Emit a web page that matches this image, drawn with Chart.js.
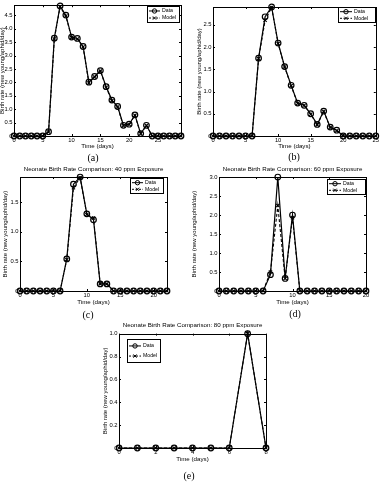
<!DOCTYPE html>
<html>
<head>
<meta charset="utf-8">
<script src="https://cdn.jsdelivr.net/npm/chart.js@4.4.1/dist/chart.umd.min.js"></script>
<style>
  body { margin: 0; background: #fff; }
  #page { position: relative; width: 381px; height: 483px; overflow: hidden; background: #fff; }
  canvas { position: absolute; }
  .cap { position: absolute; font-family: "Liberation Serif", "DejaVu Serif", serif; font-size: 10px; color: #000; transform: translateX(-50%); line-height: 10px; filter: grayscale(100%); }
</style>
</head>
<body>
<div id="page">
  <canvas id="chartA" width="192" height="152" style="left:-2px; top:0px"></canvas>
  <canvas id="chartB" width="191" height="152" style="left:190px; top:0px"></canvas>
  <canvas id="chartC" width="190" height="148" style="left:0px; top:160px"></canvas>
  <canvas id="chartD" width="191" height="148" style="left:190px; top:160px"></canvas>
  <canvas id="chartE" width="190" height="145" style="left:100px; top:320px"></canvas>
  <div class="cap" style="left:93px; top:153px">(a)</div>
  <div class="cap" style="left:294px; top:152px">(b)</div>
  <div class="cap" style="left:88px; top:310px">(c)</div>
  <div class="cap" style="left:295px; top:309px">(d)</div>
  <div class="cap" style="left:189px; top:471px">(e)</div>
</div>
<script>
// Days (x values) for each panel
const daysA = [0,1,2,3,4,5,6,7,8,9,10,11,12,13,14,15,16,17,18,19,20,21,22,23,24,25,26,27,28,29];
const daysB = [0,1,2,3,4,5,6,7,8,9,10,11,12,13,14,15,16,17,18,19,20,21,22,23,24,25];
const daysC = [0,1,2,3,4,5,6,7,8,9,10,11,12,13,14,15,16,17,18,19,20,21,22];
const daysD = [0,1,2,3,4,5,6,7,8,9,10,11,12,13,14,15,16,17,18,19,20];
const daysE = [0,1,2,3,4,5,6,7,8];

// Birth rates
const dataA  = [0,0,0,0,0,0,0.16,3.65,4.85,4.51,3.69,3.64,3.34,2.01,2.22,2.44,1.84,1.34,1.10,0.40,0.44,0.79,0.09,0.40,0,0,0,0,0,0];
const modelA = [0,0,0,0,0,0,0.15,3.62,4.82,4.48,3.67,3.62,3.32,1.98,2.20,2.42,1.82,1.32,1.08,0.38,0.43,0.77,0.08,0.39,0,0,0,0,0,0];
const dataB  = [0,0,0,0,0,0,0,1.75,2.68,2.90,2.09,1.56,1.14,0.74,0.69,0.50,0.26,0.56,0.20,0.13,0,0,0,0,0,0];
const modelB = [0,0,0,0,0,0,0,1.74,2.60,2.89,2.08,1.55,1.13,0.73,0.69,0.49,0.25,0.55,0.19,0.12,0,0,0,0,0,0];
const dataC  = [0,0,0,0,0,0,0,0.54,1.80,1.92,1.30,1.20,0.12,0.12,0,0,0,0,0,0,0,0,0];
const modelC = [0,0,0,0,0,0,0,0.53,1.74,1.91,1.29,1.23,0.12,0.12,0,0,0,0,0,0,0,0,0];
const dataD  = [0,0,0,0,0,0,0,0.43,3.00,0.33,2.00,0,0,0,0,0,0,0,0,0,0];
const modelD = [0,0,0,0,0,0,0,0.50,2.25,0.33,1.93,0,0,0,0,0,0,0,0,0,0];
const dataE  = [0,0,0,0,0,0,0,1,0];
const modelE = [0,0,0,0,0,0,0,1,0];

const FONT = '"Liberation Sans", Arial, sans-serif';
const YLABEL = 'Birth rate (new young/aphid/day)';

// Box around axes, inward ticks on all sides, and a MATLAB style legend
const boxPlugin = {
    id: 'boxAxes',
    afterDatasetsDraw(chart, args, opts) {
        const ctx = chart.ctx;
        const a = chart.chartArea;
        const xs = chart.scales.x, ys = chart.scales.y;
        ctx.save();
        ctx.strokeStyle = '#000';
        ctx.lineWidth = 1;
        ctx.setLineDash([]);
        ctx.strokeRect(Math.round(a.left) + 0.5, Math.round(a.top) + 0.5,
            Math.round(a.right - a.left), Math.round(a.bottom - a.top));
        ctx.beginPath();
        xs.ticks.forEach(t => {
            const px = Math.round(xs.getPixelForValue(t.value)) + 0.5;
            ctx.moveTo(px, a.bottom); ctx.lineTo(px, a.bottom - 2);
            ctx.moveTo(px, a.top); ctx.lineTo(px, a.top + 2);
        });
        ys.ticks.forEach(t => {
            const py = Math.round(ys.getPixelForValue(t.value)) + 0.5;
            ctx.moveTo(a.left, py); ctx.lineTo(a.left + 2, py);
            ctx.moveTo(a.right, py); ctx.lineTo(a.right - 2, py);
        });
        ctx.stroke();

        // legend
        const lg = opts.legend;
        const bx = lg.side === 'left' ? Math.round(a.left + lg.dx) : Math.round(a.right - lg.dx - lg.w);
        const by = Math.round(a.top + lg.dy);
        ctx.fillStyle = '#fff';
        ctx.fillRect(bx, by, lg.w, lg.h);
        ctx.strokeRect(bx + 0.5, by + 0.5, lg.w, lg.h);
        const rows = [
            { label: 'Data', dash: [], style: 'circle' },
            { label: 'Model', dash: [2, 1.5], style: 'cross' }
        ];
        ctx.font = lg.font + 'px ' + FONT;
        ctx.textBaseline = 'middle';
        rows.forEach((r, i) => {
            const y = by + lg.h * (i === 0 ? 0.28 : 0.72) + 0.5;
            const x0 = bx + 2, x1 = bx + 2 + lg.line;
            ctx.beginPath();
            ctx.setLineDash(r.dash);
            ctx.moveTo(x0, y); ctx.lineTo(x1, y);
            ctx.stroke();
            ctx.setLineDash([]);
            const cx = (x0 + x1) / 2;
            ctx.beginPath();
            if (r.style === 'circle') {
                ctx.arc(cx, y, 2.2, 0, Math.PI * 2);
            } else {
                ctx.moveTo(cx - 1.6, y - 1.6); ctx.lineTo(cx + 1.6, y + 1.6);
                ctx.moveTo(cx - 1.6, y + 1.6); ctx.lineTo(cx + 1.6, y - 1.6);
            }
            ctx.stroke();
            ctx.fillStyle = '#000';
            ctx.fillText(r.label, x1 + 2, y);
        });
        ctx.restore();
    }
};

function points(days, vals) {
    return days.map((d, i) => ({ x: d, y: vals[i] }));
}

function makeChart(id, days, data, model, o) {
    const canvas = document.getElementById(id);
    return new Chart(canvas, {
        type: 'line',
        data: {
            datasets: [{
                label: 'Data',
                data: points(days, data),
                borderColor: '#000',
                borderWidth: 1.2,
                pointStyle: 'circle',
                pointRadius: 2.8,
                pointBorderWidth: 1.2,
                pointBorderColor: '#000',
                pointBackgroundColor: 'rgba(0,0,0,0)',
                tension: 0,
                clip: false
            }, {
                label: 'Model',
                data: points(days, model),
                borderColor: '#000',
                borderWidth: 1.1,
                borderDash: [3, 2],
                pointStyle: 'crossRot',
                pointRadius: 2.3,
                pointBorderWidth: 1.1,
                pointBorderColor: '#000',
                tension: 0,
                clip: false
            }]
        },
        options: {
            responsive: false,
            animation: false,
            events: [],
            layout: { padding: { top: o.title ? 0 : o.padTop, right: o.padRight, left: 0, bottom: 0 } },
            plugins: {
                legend: { display: false },
                tooltip: { enabled: false },
                title: {
                    display: !!o.title,
                    text: o.title || '',
                    fullSize: false,
                    color: '#000',
                    font: { family: FONT, size: 6.2, weight: 'normal', lineHeight: 1.2 },
                    padding: { top: o.titleTop || 0, bottom: o.titleBottom || 0 }
                },
                boxAxes: { legend: o.legend }
            },
            scales: {
                x: {
                    type: 'linear',
                    min: 0,
                    max: o.xMax,
                    ticks: {
                        stepSize: o.xStep,
                        includeBounds: false,
                        autoSkip: false,
                        maxRotation: 0,
                        padding: 1,
                        color: '#000',
                        font: { family: FONT, size: 5.8 }
                    },
                    grid: { display: false, drawTicks: false },
                    border: { display: false },
                    title: {
                        display: true,
                        text: 'Time (days)',
                        color: '#000',
                        font: { family: FONT, size: 6.2 },
                        padding: { top: o.xTitlePad, bottom: o.xTitlePad }
                    },
                    afterFit: s => { s.height = o.xH; }
                },
                y: {
                    min: 0,
                    max: o.yMax,
                    ticks: {
                        stepSize: o.yStep,
                        includeBounds: false,
                        autoSkip: false,
                        padding: 1.5,
                        color: '#000',
                        font: { family: FONT, size: 5.8 }
                    },
                    grid: { display: false, drawTicks: false },
                    border: { display: false },
                    title: {
                        display: true,
                        text: YLABEL,
                        color: '#000',
                        font: { family: FONT, size: 6 },
                        padding: { top: o.yTitlePad, bottom: o.yTitlePad }
                    },
                    afterFit: s => { s.width = o.yW; }
                }
            }
        },
        plugins: [boxPlugin]
    });
}

document.addEventListener('DOMContentLoaded', function() {
    makeChart('chartA', daysA, dataA, modelA, {
        xMax: 29, xStep: 5, yMax: 4.88, yStep: 0.5,
        padTop: 5, padRight: 9, yW: 16, xH: 16, xTitlePad: 2.4, yTitlePad: 0.4,
        legend: { side: 'right', dx: 2, dy: 1, w: 32, h: 16, line: 11, font: 5.2 }
    });
    makeChart('chartB', daysB, dataB, modelB, {
        xMax: 25, xStep: 5, yMax: 2.9, yStep: 0.5,
        padTop: 7, padRight: 4, yW: 23, xH: 16, xTitlePad: 2.4, yTitlePad: 5.4,
        legend: { side: 'right', dx: 1, dy: 0, w: 37, h: 15, line: 12, font: 5.2 }
    });
    makeChart('chartC', daysC, dataC, modelC, {
        title: 'Neonate Birth Rate Comparison: 40 ppm Exposure', titleTop: 6, titleBottom: 3.6,
        xMax: 22, xStep: 5, yMax: 1.92, yStep: 0.5,
        padRight: 23, yW: 20, xH: 17, xTitlePad: 2.4, yTitlePad: 1.4,
        legend: { side: 'right', dx: 4, dy: 1, w: 33, h: 15, line: 11, font: 5.2 }
    });
    makeChart('chartD', daysD, dataD, modelD, {
        title: 'Neonate Birth Rate Comparison: 60 ppm Exposure', titleTop: 6, titleBottom: 3.6,
        xMax: 20, xStep: 5, yMax: 3, yStep: 0.5,
        padRight: 15, yW: 29, xH: 17, xTitlePad: 2.4, yTitlePad: 0.4,
        legend: { side: 'right', dx: 1, dy: 2, w: 38, h: 15, line: 12, font: 5.2 }
    });
    makeChart('chartE', daysE, dataE, modelE, {
        title: 'Neonate Birth Rate Comparison: 80 ppm Exposure', titleTop: 1.5, titleBottom: 4.7,
        xMax: 8, xStep: 2, yMax: 1, yStep: 0.2,
        padRight: 24, yW: 19, xH: 17, xTitlePad: 1.8, yTitlePad: 1.4,
        legend: { side: 'left', dx: 8, dy: 5, w: 33, h: 23, line: 12, font: 5.2 }
    });
});
</script>
</body>
</html>
